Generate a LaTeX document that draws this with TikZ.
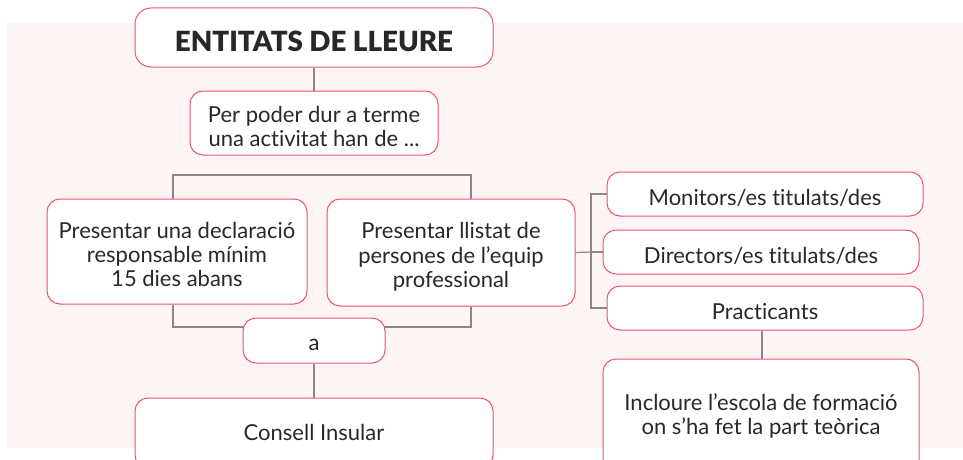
\documentclass[tikz,border=0pt]{standalone}
\usepackage{fontspec}
\setmainfont[Ligatures=NoCommon]{Lato}
\newfontfamily\titlefont[Ligatures=NoCommon]{Lato Black}
\definecolor{bgpink}{HTML}{FEF4F3}
\definecolor{boxline}{HTML}{E7566F}
\definecolor{conn}{HTML}{878787}
\definecolor{ink}{HTML}{2A2728}
\newcommand{\dn}[2][-5.5pt]{\raisebox{#1}[\height][\depth]{\begin{tabular}{@{}c@{}}#2\end{tabular}}}
\tikzset{
  box/.style={draw=boxline, line width=1pt, fill=white, rounded corners=13pt,
    inner sep=0pt, align=center, text=ink,
    font=\fontsize{22}{24}\selectfont},
  titlebox/.style={box, rounded corners=16pt, font=\fontsize{27.8}{30}\titlefont},
  link/.style={draw=conn, line width=1.2pt}
}
\begin{document}
\begin{tikzpicture}[x=1pt,y=-1pt]
\useasboundingbox (0,0) rectangle (963,460);
\fill[bgpink] (7,23) rectangle (963,448);
\coordinate (top) at (314,175);
\coordinate (bot) at (314,327);
\coordinate (sp) at (591,252);
% nodes
\node[titlebox, minimum width=358pt, minimum height=59pt] (title) at (314,37.5) {\dn[-8pt]{ENTITATS DE LLEURE}};
\node[box, minimum width=248pt, minimum height=64pt] (b2) at (314,123) {\dn[-7pt]{Per poder dur a terme\\una activitat han de ...}};
\node[box, minimum width=260pt, minimum height=105pt] (b3) at (177,251.5) {\dn[-5.7pt]{Presentar una declaració\\responsable mínim\\15 dies abans}};
\node[box, minimum width=248pt, minimum height=107pt] (b4) at (451,252.5) {\dn[-5.7pt]{Presentar llistat de\\persones de l’equip\\professional}};
\node[box, minimum width=316pt, minimum height=44pt] (mon) at (765,194) {\dn[-6.2pt]{Monitors/es titulats/des}};
\node[box, minimum width=316pt, minimum height=44pt] (dir) at (761,252) {\dn[-6.2pt]{Directors/es titulats/des}};
\node[box, minimum width=316pt, minimum height=44pt] (pra) at (765,308) {\dn[-6.2pt]{Practicants}};
\node[box, minimum width=316pt, minimum height=114pt] (inc) at (761,416) {\dn[-1.5pt]{Incloure l’escola de formació\\on s’ha fet la part teòrica}};
\node[box, minimum width=358pt, minimum height=70pt] (con) at (314,433) {\dn[-2.5pt]{Consell Insular}};
% connectors
\draw[link] (title.south) -- (b2.north);
\draw[link] ([xshift=-4pt]b3.north) |- (top) -| ([xshift=20pt]b4.north);
\draw[link] ([xshift=-4pt]b3.south) |- (bot) -| ([xshift=20pt]b4.south);
\draw[link] (b4.east) -- (sp);
\draw[link] (mon.west) -| (sp) |- (pra.west);
\draw[link] (sp) -- (dir.west);
\node[box, minimum width=142pt, minimum height=45pt] (a) at (314,340.5) {\dn[-4.7pt]{a}};
\draw[link] (a.south) -- (con.north);
\draw[link] ([xshift=-3pt]pra.south) -- ([xshift=-3pt]pra.south |- inc.north);
\end{tikzpicture}
\end{document}
